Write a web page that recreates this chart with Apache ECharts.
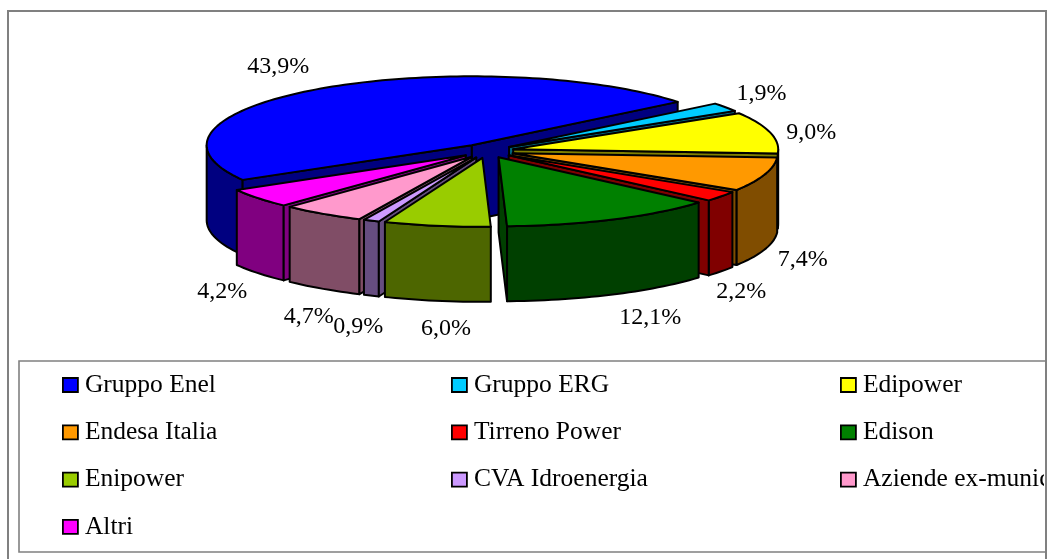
<!DOCTYPE html>
<html><head><meta charset="utf-8">
<style>html,body{margin:0;padding:0;background:#fff}#c{width:1049px;height:559px}</style>
<script src="https://cdn.jsdelivr.net/npm/echarts@6/dist/echarts.min.js"></script>
</head><body><div id="c"></div>
<script>
const categories = ['Gruppo Enel','Gruppo ERG','Edipower','Endesa Italia','Tirreno Power','Edison','Enipower','CVA Idroenergia','Aziende ex-municipalizzate','Altri'];
const shares = [43.9,1.9,9.0,7.4,2.2,12.1,6.0,0.9,4.7,4.2];
const topColors = ['#0000FF','#00CCFF','#FFFF00','#FF9900','#FF0000','#008000','#99CC00','#CC99FF','#FF99CC','#FF00FF'];
const sideColors = ['#000080','#006680','#808000','#804D00','#800000','#004000','#4D6600','#664D80','#804D66','#800080'];
const labelDx = [-43,36,41,38,20,38,9,-13,-14,-36];
const labelDy = [-22,-13,0,10,20,23,28,31,28,19];

const CX=487, CY=151, R=265, K=0.26, DEPTH=75, EXPLODE=27, START=239.8, FONT='Liberation Serif';
const total = shares.reduce((a,b)=>a+b,0);
const rad = d => d*Math.PI/180;
const spans = []; let acc = START;
shares.forEach(v => { const s=acc, e=acc+v/total*360; spans.push([s,e]); acc=e; });

function buildSlice(i, value){
  const [s,e]=spans[i], bis=(s+e)/2;
  const ax=CX+EXPLODE*Math.sin(rad(bis)), ay=CY-K*EXPLODE*Math.cos(rad(bis));
  const rim=a=>[ax+R*Math.sin(rad(a)), ay-K*R*Math.cos(rad(a))];
  const down=p=>[p[0],p[1]+DEPTH];
  const lineStyle={stroke:'#000',lineWidth:2,lineJoin:'round'};
  const poly=(pts,fill)=>({type:'polygon',shape:{points:pts},style:{fill,...lineStyle}});
  const kids=[];
  const apex=[ax,ay];
  // outer wall: only the part of the rim that faces the viewer
  for(const k of [-360,0,360]){
    const a0=Math.max(s,90+k), a1=Math.min(e,270+k);
    if(a1>a0){
      const top=[]; for(let a=a0;a<a1;a+=1.5) top.push(rim(a)); top.push(rim(a1));
      kids.push(poly(top.concat(top.map(down).reverse()),sideColors[i]));
    }
  }
  // radial cut faces
  if(Math.sin(rad(e))>0) kids.push(poly([apex,rim(e),down(rim(e)),down(apex)],sideColors[i]));
  if(-Math.sin(rad(s))>0) kids.push(poly([apex,rim(s),down(rim(s)),down(apex)],sideColors[i]));
  // top face
  const pts=[apex]; for(let a=s;a<e;a+=1.5) pts.push(rim(a)); pts.push(rim(e));
  kids.push(poly(pts,topColors[i]));
  // data label
  let p=rim(bis); const front=Math.cos(rad(bis))<0.2;
  if(front) p=down(p);
  kids.push({type:'text',z2:100,style:{text:value.toFixed(1).replace('.',',')+'%',x:p[0]+labelDx[i],y:p[1]+labelDy[i],
    fill:'#000',font:'24px "'+FONT+'"',align:'center',verticalAlign:'middle'}});
  return {type:'group',children:kids};
}

const order = shares.map((_,i)=>i).sort((a,b)=>{
  const f=i=>-Math.cos(rad((spans[i][0]+spans[i][1])/2)); return f(a)-f(b);});

const series = categories.map((name,i)=>({
  type:'custom', name, coordinateSystem:'none', silent:true, animation:false, clip:false,
  z:2+order.indexOf(i), itemStyle:{color:topColors[i]},
  data:[[shares[i]]],
  renderItem:(params,api)=>buildSlice(i,api.value(0))
}));

const legendBase = {
  top:367, height:186, padding:[5,5,5,5], itemGap:21.3, itemWidth:15, itemHeight:14, z:5,
  icon:'rect', selectedMode:false, align:'left', orient:'vertical',
  textStyle:{fontFamily:FONT,fontSize:25.5,color:'#000',padding:[0,0,0,2]},
  itemStyle:{borderColor:'#000',borderWidth:1.8}
};
const columnOf = i => i===9 ? 0 : i%3;
const legendLefts = [57,446,835];
const legends = legendLefts.map((left,c)=>({...legendBase,left,data:categories.filter((_,i)=>columnOf(i)===c)}));

const chart = echarts.init(document.getElementById('c'),null,{renderer:'canvas'});
chart.setOption({
  animation:false, backgroundColor:'#fff',
  graphic:[
    {type:'rect',z:50,shape:{x:1044,y:362,width:5,height:189},style:{fill:'#fff'}},
    {type:'polyline',z:60,shape:{points:[[8,559],[8,11],[1046,11],[1046,559]]},style:{fill:null,stroke:'#808080',lineWidth:2}},
    {type:'polyline',z:60,shape:{points:[[1046,361],[19,361],[19,552],[1046,552]]},style:{fill:null,stroke:'#808080',lineWidth:1.6}}
  ],
  legend:legends,
  series
});
</script></body></html>
